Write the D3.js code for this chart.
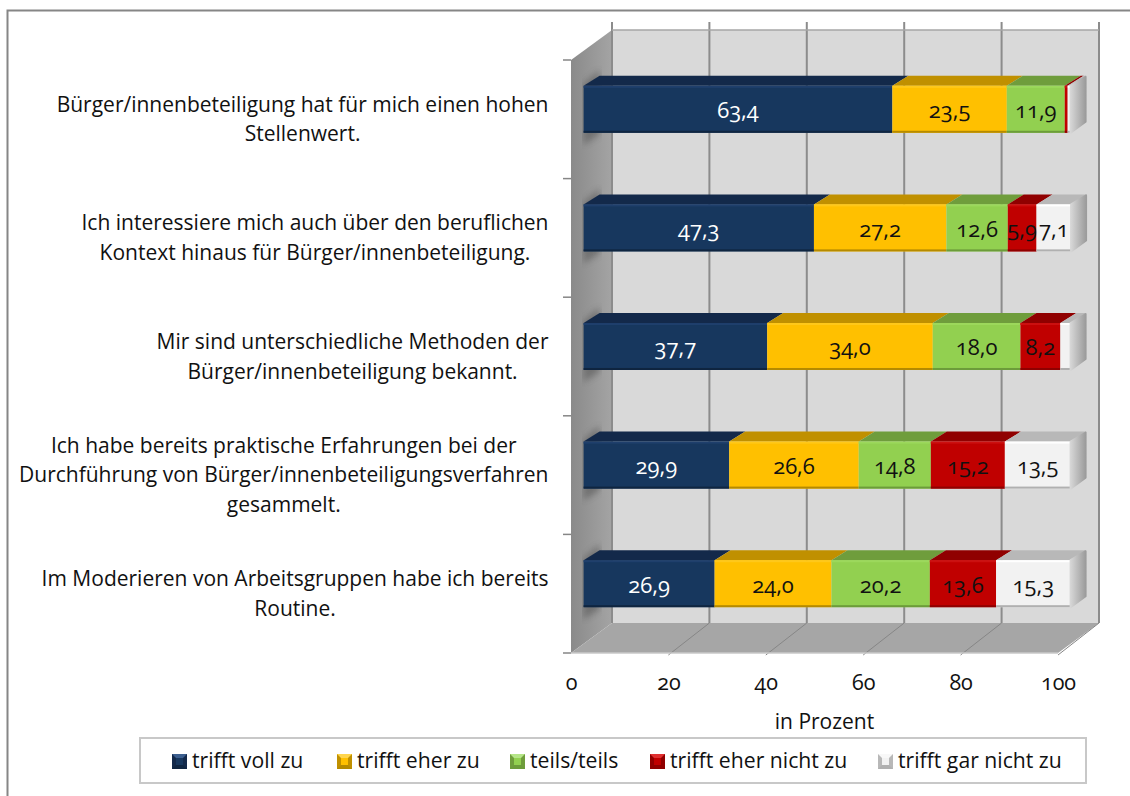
<!DOCTYPE html>
<html>
<head>
<meta charset="utf-8">
<script src="https://cdnjs.cloudflare.com/ajax/libs/d3/7.8.5/d3.min.js"></script>
<style>
  html, body { margin: 0; padding: 0; background: #fff; }
  svg { display: block; }
  text { font-family: "Open Sans", sans-serif; font-feature-settings: "onum" 1; fill: #111; }
</style>
</head>
<body>
<div id="chart"></div>
<script>
// Data
const categories = ["q1", "q2", "q3", "q4", "q5"];
const categoryLines = [
    ["Bürger/innenbeteiligung hat für mich einen hohen", "Stellenwert."],
    ["Ich interessiere mich auch über den beruflichen", "Kontext hinaus für Bürger/innenbeteiligung."],
    ["Mir sind unterschiedliche Methoden der", "Bürger/innenbeteiligung bekannt."],
    ["Ich habe bereits praktische Erfahrungen bei der", "Durchführung von Bürger/innenbeteiligungsverfahren", "gesammelt."],
    ["Im Moderieren von Arbeitsgruppen habe ich bereits", "Routine."]
];
const seriesNames = ["trifft voll zu", "trifft eher zu", "teils/teils", "trifft eher nicht zu", "trifft gar nicht zu"];
const volleZu = [63.4, 47.3, 37.7, 29.9, 26.9];
const eherZu = [23.5, 27.2, 34.0, 26.6, 24.0];
const teilsTeils = [11.9, 12.6, 18.0, 14.8, 20.2];
const eherNicht = [0.6, 5.9, 8.2, 15.2, 13.6];
const garNicht = [0.6, 7.1, 2.1, 13.5, 15.3];
const xTicks = [0, 20, 40, 60, 80, 100];

const allSeries = [volleZu, eherZu, teilsTeils, eherNicht, garNicht];
const frontColors = ["#17375e", "#ffc000", "#92d050", "#c00000", "#f2f2f2"];
const topColors = ["#13294a", "#c09000", "#6f9d3c", "#900000", "#b8b8b8"];
const lightEdge = ["#1f3f6c", "#ffc81a", "#9cd85c", "#cc1010", "#ffffff"];
const darkEdge = ["#0f2540", "#b58a00", "#6c9c3a", "#8f0000", "#b0b0b0"];
const swatchTop = ["#3c5f8f", "#ffd54d", "#b5e588", "#e03030", "#f8f8f8"];
const labelColors = ["#fff", "#111", "#111", "#111", "#111"];

const width = 1130, height = 796;
const svg = d3.select("#chart").append("svg")
    .attr("width", width)
    .attr("height", height);

// Scales
const x = d3.scaleLinear().domain([0, 100]).range([571, 1058]);
const y = d3.scaleBand().domain(categories).range([60, 653]).paddingInner(0.604).paddingOuter(0.302);

// Depth of the 3D box and of the bars inside it
const wallDx = 41, wallDy = -30;
const barDx = 16, barDy = -10, barShiftX = 12.6, barShiftY = -10;
const plotTop = y.range()[0], plotBottom = y.range()[1];

const defs = svg.append("defs");
const wallGrad = defs.append("linearGradient").attr("id", "wallGrad");
wallGrad.append("stop").attr("offset", "0%").attr("stop-color", "#8a8a8a");
wallGrad.append("stop").attr("offset", "100%").attr("stop-color", "#a4a4a4");
const sideGrad = defs.append("linearGradient").attr("id", "sideGrad");
sideGrad.append("stop").attr("offset", "0%").attr("stop-color", "#d6d6d6");
sideGrad.append("stop").attr("offset", "100%").attr("stop-color", "#9c9c9c");
defs.append("filter").attr("id", "soft").append("feGaussianBlur").attr("stdDeviation", 3);
defs.append("clipPath").attr("id", "wallClip").append("polygon")
    .attr("points", [[x(0), plotTop], [x(0) + wallDx, plotTop + wallDy], [x(0) + wallDx, plotBottom + wallDy], [x(0), plotBottom]].join(" "));

// Frame
svg.append("path")
    .attr("d", "M7.5,796V10.5H1130")
    .attr("fill", "none").attr("stroke", "#868686").attr("stroke-width", 2);

// Back wall, left wall, floor
svg.append("rect")
    .attr("x", x(0) + wallDx).attr("y", plotTop + wallDy)
    .attr("width", x(100) - x(0)).attr("height", plotBottom - plotTop)
    .attr("fill", "#d9d9d9");
svg.append("polygon")
    .attr("points", [[x(0), plotTop], [x(0) + wallDx, plotTop + wallDy], [x(0) + wallDx, plotBottom + wallDy], [x(0), plotBottom]].join(" "))
    .attr("fill", "url(#wallGrad)");
svg.append("polygon")
    .attr("points", [[x(0), plotBottom], [x(0) + wallDx, plotBottom + wallDy], [x(100) + wallDx, plotBottom + wallDy], [x(100), plotBottom]].join(" "))
    .attr("fill", "#a6a6a6");

// Grid lines on the wall and the floor
xTicks.forEach(function(t) {
    svg.append("line")
        .attr("x1", x(t) + wallDx).attr("x2", x(t) + wallDx)
        .attr("y1", plotTop + wallDy - 8).attr("y2", plotBottom + wallDy)
        .attr("stroke", "#8c8c8c").attr("stroke-width", 2);
    if (t > 0) {
        svg.append("line")
            .attr("x1", x(t) + wallDx).attr("x2", x(t))
            .attr("y1", plotBottom + wallDy).attr("y2", plotBottom + 2)
            .attr("stroke", "#868686").attr("stroke-width", 1);
    }
});
svg.append("line")
    .attr("x1", x(0) + wallDx).attr("x2", x(100) + wallDx)
    .attr("y1", plotTop + wallDy).attr("y2", plotTop + wallDy)
    .attr("stroke", "#a6a6a6").attr("stroke-width", 1.5);
svg.append("line")
    .attr("x1", x(0)).attr("x2", x(100))
    .attr("y1", plotBottom).attr("y2", plotBottom)
    .attr("stroke", "#c8c8c8").attr("stroke-width", 1.5);

// Left ticks at the band edges
const yEdges = categories.map(c => y(c) - y.step() * y.paddingInner() / 2).concat([plotBottom]);
svg.selectAll(".ytick").data(yEdges).enter().append("line")
    .attr("class", "ytick")
    .attr("x1", x(0) - 8).attr("x2", x(0))
    .attr("y1", d => d).attr("y2", d => d)
    .attr("stroke", "#868686").attr("stroke-width", 1.5);

// Stacked bars
const rows = categories.map(function(c, i) {
    const row = { category: c };
    seriesNames.forEach(function(s, j) { row[s] = allSeries[j][i]; });
    return row;
});
const stacked = d3.stack().keys(seriesNames)(rows);
const barLen = d3.scaleLinear().domain([0, 100]).range([x(0) + barShiftX, x(100) + barShiftX]);
const barH = y.bandwidth();

// soft shadow on the left wall next to each bar
const shadows = svg.append("g").attr("clip-path", "url(#wallClip)");
categories.forEach(function(c) {
    const by = y(c) + barShiftY;
    shadows.append("polygon")
        .attr("points", [[barLen(0), by - 2], [barLen(0) + barDx, by + barDy - 6], [barLen(0) + barDx, by + barH + barDy + 12], [barLen(0), by + barH + 12]].join(" "))
        .attr("fill", "#444").attr("opacity", 0.45)
        .attr("filter", "url(#soft)");
});

stacked.forEach(function(layer, j) {
    const g = svg.append("g");
    layer.forEach(function(d, i) {
        const c = categories[i];
        const x0 = barLen(d[0]), x1 = barLen(d[1]);
        const by = y(c) + barShiftY;
        // top face
        g.append("polygon")
            .attr("points", [[x0, by], [x0 + barDx, by + barDy], [x1 + barDx, by + barDy], [x1, by]].join(" "))
            .attr("fill", topColors[j]);
        // front face
        g.append("rect").attr("x", x0).attr("y", by)
            .attr("width", x1 - x0).attr("height", barH)
            .attr("fill", frontColors[j]);
        g.append("rect").attr("x", x0).attr("y", by)
            .attr("width", x1 - x0).attr("height", 2)
            .attr("fill", lightEdge[j]);
        g.append("rect").attr("x", x0).attr("y", by + barH - 2)
            .attr("width", x1 - x0).attr("height", 2)
            .attr("fill", darkEdge[j]);
    });
});

// right end of each bar
rows.forEach(function(r, i) {
    const xEnd = barLen(stacked[stacked.length - 1][i][1]);
    const by = y(r.category) + barShiftY;
    svg.append("polygon")
        .attr("points", [[xEnd, by], [xEnd + barDx - 1, by + barDy + 1], [xEnd + barDx - 1, by + barH + barDy - 1], [xEnd, by + barH]].join(" "))
        .attr("fill", "url(#sideGrad)")
        .attr("stroke", "url(#sideGrad)").attr("stroke-width", 2).attr("stroke-linejoin", "round");
});

// Value labels
stacked.forEach(function(layer, j) {
    layer.forEach(function(d, i) {
        const v = allSeries[j][i];
        if (v < 5) return;
        svg.append("text")
            .attr("x", barLen((d[0] + d[1]) / 2))
            .attr("y", y(categories[i]) + barShiftY + barH / 2)
            .attr("dy", "0.4em")
            .attr("text-anchor", "middle")
            .attr("font-size", 22)
            .style("fill", labelColors[j])
            .text(d3.format(".1f")(v).replace(".", ","));
    });
});

// Category labels: lines centred on each other, block flush right
const labelRight = 548.5, lineHeight = 29.6;
categories.forEach(function(c, i) {
    const lines = categoryLines[i];
    const g = svg.append("g");
    const texts = g.selectAll("text").data(lines).enter().append("text")
        .attr("font-size", 21)
        .attr("y", (d, k) => y(c) + barH / 2 + (k - (lines.length - 1) / 2) * lineHeight)
        .attr("dy", "0.35em")
        .attr("text-anchor", "middle")
        .text(d => d);
    const w = d3.max(texts.nodes(), n => n.getComputedTextLength());
    texts.attr("x", labelRight - w / 2);
});

// X axis
const xAxis = svg.append("g")
    .attr("transform", `translate(0,${plotBottom})`)
    .call(d3.axisBottom(x).tickValues(xTicks).tickSize(0).tickPadding(22));
xAxis.select(".domain").remove();
xAxis.attr("font-family", null).attr("font-size", null);
xAxis.selectAll("text").attr("font-size", 21.5).style("fill", "#111");

svg.append("text")
    .attr("x", 824.5).attr("y", 722).attr("dy", "0.35em")
    .attr("text-anchor", "middle").attr("font-size", 21)
    .text("in Prozent");

// Legend
svg.append("rect")
    .attr("x", 140).attr("y", 738).attr("width", 946).attr("height", 45)
    .attr("fill", "#fff").attr("stroke", "#c8c8c8").attr("stroke-width", 2);
const legendX = d3.scaleOrdinal().domain(seriesNames).range([172, 337, 510, 650, 878]);
const sw = 15, inset = 4;
seriesNames.forEach(function(s, j) {
    const lx = legendX(s), ly = 754;
    // bevelled swatch
    svg.append("rect").attr("x", lx).attr("y", ly).attr("width", sw).attr("height", sw)
        .attr("fill", topColors[j]);
    svg.append("polygon")
        .attr("points", [[lx, ly], [lx + sw, ly], [lx + sw - inset, ly + inset], [lx + inset, ly + inset]].join(" "))
        .attr("fill", swatchTop[j]);
    svg.append("polygon")
        .attr("points", [[lx, ly + sw], [lx + sw, ly + sw], [lx + sw - inset, ly + sw - inset], [lx + inset, ly + sw - inset]].join(" "))
        .attr("fill", darkEdge[j]);
    svg.append("rect").attr("x", lx + inset).attr("y", ly + inset)
        .attr("width", sw - 2 * inset).attr("height", sw - 2 * inset)
        .attr("fill", frontColors[j]);
    svg.append("text").attr("x", lx + 20).attr("y", 761).attr("dy", "0.35em")
        .attr("font-size", 21.2).text(s);
});
</script>
</body>
</html>
